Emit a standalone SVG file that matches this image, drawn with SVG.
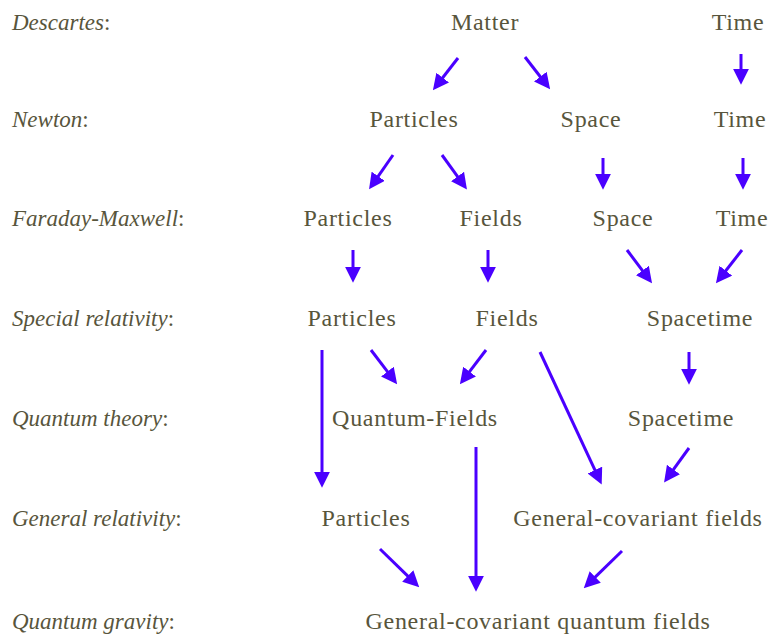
<svg xmlns="http://www.w3.org/2000/svg" width="769" height="636" viewBox="0 0 769 636">
<style>
text{font-family:"Liberation Serif","Times New Roman",serif;font-size:24px;fill:#58553c}
.n{text-anchor:middle;letter-spacing:0.7px}
.l text{font-size:23px}
.l tspan.i{font-style:italic}
.c line{stroke:#4a00ff;stroke-width:3;marker-end:url(#ah)}
</style>
<defs>
<marker id="ah" markerUnits="userSpaceOnUse" markerWidth="16" markerHeight="16" viewBox="0 0 14 14" refX="2" refY="7" orient="auto">
<path d="M0,0 L14,7 L0,14 z" fill="#4a00ff"/>
</marker>
</defs>
<g id="labels" class="l">
<text x="12" y="30"><tspan class="i">Descartes</tspan>:</text>
<text x="12" y="127"><tspan class="i">Newton</tspan>:</text>
<text x="12" y="226"><tspan class="i">Faraday-Maxwell</tspan>:</text>
<text x="12" y="326"><tspan class="i">Special relativity</tspan>:</text>
<text x="12" y="426"><tspan class="i">Quantum theory</tspan>:</text>
<text x="12" y="526"><tspan class="i">General relativity</tspan>:</text>
<text x="12" y="629"><tspan class="i">Quantum gravity</tspan>:</text>
</g>
<g id="d-matter"><text class="n" x="485" y="30">Matter</text></g>
<g id="d-time"><text class="n" x="738" y="30">Time</text></g>
<g id="n-particles"><text class="n" x="414" y="127">Particles</text></g>
<g id="n-space"><text class="n" x="591" y="127">Space</text></g>
<g id="n-time"><text class="n" x="740" y="127">Time</text></g>
<g id="fm-particles"><text class="n" x="348" y="226">Particles</text></g>
<g id="fm-fields"><text class="n" x="491" y="226">Fields</text></g>
<g id="fm-space"><text class="n" x="623" y="226">Space</text></g>
<g id="fm-time"><text class="n" x="742" y="226">Time</text></g>
<g id="sr-particles"><text class="n" x="352" y="326">Particles</text></g>
<g id="sr-fields"><text class="n" x="507" y="326">Fields</text></g>
<g id="sr-spacetime"><text class="n" x="700" y="326">Spacetime</text></g>
<g id="qt-qfields"><text class="n" x="415" y="426">Quantum-Fields</text></g>
<g id="qt-spacetime"><text class="n" x="681" y="426">Spacetime</text></g>
<g id="gr-particles"><text class="n" x="366" y="526">Particles</text></g>
<g id="gr-gcfields"><text class="n" x="638" y="526">General-covariant fields</text></g>
<g id="qg-gcqfields"><text class="n" x="538" y="629">General-covariant quantum fields</text></g>
<g id="connectors" class="c">
<line x1="458" y1="58" x2="441.3" y2="79.5"/>
<line x1="525" y1="57" x2="541.7" y2="78.5"/>
<line x1="741" y1="54" x2="741" y2="71"/>
<line x1="393" y1="155" x2="376.9" y2="178.1"/>
<line x1="442" y1="155" x2="458.9" y2="178.3"/>
<line x1="603" y1="158" x2="603" y2="176"/>
<line x1="743" y1="158" x2="743" y2="176"/>
<line x1="353" y1="250" x2="353" y2="269"/>
<line x1="488" y1="250" x2="488" y2="269"/>
<line x1="627" y1="250" x2="643.8" y2="272.4"/>
<line x1="742" y1="250" x2="724.4" y2="272.5"/>
<line x1="322" y1="350" x2="322" y2="474"/>
<line x1="371" y1="350" x2="388.8" y2="373.4"/>
<line x1="486" y1="350" x2="468.2" y2="373.4"/>
<line x1="540" y1="352" x2="595.9" y2="472.1"/>
<line x1="689" y1="352" x2="689" y2="371"/>
<line x1="689" y1="448" x2="672.1" y2="471.3"/>
<line x1="476" y1="447" x2="476" y2="578"/>
<line x1="380" y1="549" x2="409.4" y2="577.6"/>
<line x1="622" y1="551" x2="593.6" y2="578.6"/>
</g>
</svg>
